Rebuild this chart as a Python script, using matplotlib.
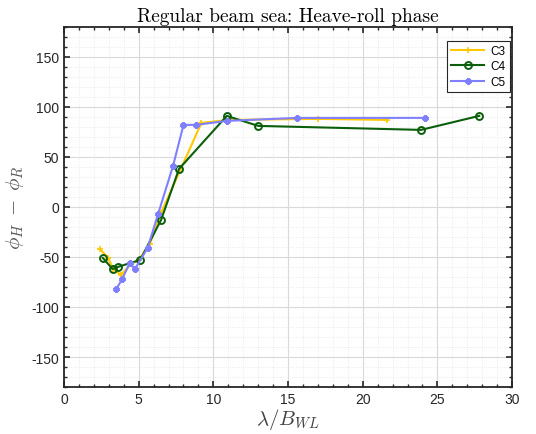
import matplotlib
matplotlib.use("Agg")
import matplotlib.pyplot as plt
from matplotlib.ticker import MultipleLocator

plt.rcParams["mathtext.fontset"] = "cm"
plt.rcParams["font.family"] = ["Liberation Sans", "DejaVu Sans"]
plt.rcParams["axes.unicode_minus"] = False

# wavelength / waterline beam and heave-roll phase difference (deg)
c3_x = [2.4, 2.95, 3.3, 3.8, 4.5, 5.0, 5.75, 6.5, 9.2, 11.1, 17.0, 21.6]
c3_y = [-42, -51, -62, -68, -57, -53, -37, -6, 84, 87, 88, 87]

c4_x = [2.6, 3.25, 3.6, 5.1, 6.5, 7.7, 10.9, 13.0, 23.9, 27.8]
c4_y = [-51, -62, -60, -53, -13, 38, 91, 81, 77, 91]

c5_x = [3.5, 3.9, 4.4, 4.75, 5.6, 6.3, 7.3, 8.0, 8.85, 10.9, 15.6, 24.2]
c5_y = [-82, -72, -56, -62, -41, -7, 41, 82, 82, 86, 89, 89]

fig = plt.figure(figsize=(5.36, 4.35), dpi=100)
ax = fig.add_axes([0.1194, 0.108, 0.836, 0.828])

ax.plot(c3_x, c3_y, color="#FFC800", lw=1.5, marker="+", ms=5, mew=1.2, label="C3")
ax.plot(c4_x, c4_y, color="#0B5E0B", lw=1.5, marker="o", ms=5, mew=1.4,
        mfc="none", label="C4")
ax.plot(c5_x, c5_y, color="#8080FF", lw=1.5, marker=(6, 2, 0), ms=4.5, mew=1.8,
        label="C5")

ax.set_xlim(0, 30)
ax.set_ylim(-180, 180)
ax.xaxis.set_major_locator(MultipleLocator(5))
ax.xaxis.set_minor_locator(MultipleLocator(1))
ax.yaxis.set_major_locator(MultipleLocator(50))
ax.yaxis.set_minor_locator(MultipleLocator(10))

ax.grid(which="major", color="#d9d9d9", lw=0.8)
ax.grid(which="minor", color="#e6e6e6", lw=0.6, ls=":")
ax.set_axisbelow(True)
ax.tick_params(which="both", direction="in", top=True, right=True,
               colors="#262626", labelsize=10)
ax.tick_params(which="major", length=4, width=1.2)
ax.tick_params(which="minor", length=2.5, width=1.0)
for sp in ax.spines.values():
    sp.set_linewidth(1.3)
    sp.set_color("#262626")

ax.set_title("Regular beam sea: Heave-roll phase", fontfamily="cmr10",
             fontsize=14, pad=4)
ax.set_xlabel(r"$\lambda/B_{WL}$", fontsize=15, color="#404040", labelpad=0)
ax.set_ylabel(r"$\phi_H\;-\;\phi_R$", fontsize=15, color="#555555", labelpad=4)

leg = ax.legend(loc="upper right", fontsize=8.5, fancybox=False, framealpha=1,
                edgecolor="#262626", borderaxespad=0.4, handlelength=2.8,
                borderpad=0.35, labelspacing=0.3, handletextpad=0.5,
                bbox_to_anchor=(1.005, 0.975))
leg.get_frame().set_linewidth(0.8)

fig.savefig("out.png", dpi=100)
